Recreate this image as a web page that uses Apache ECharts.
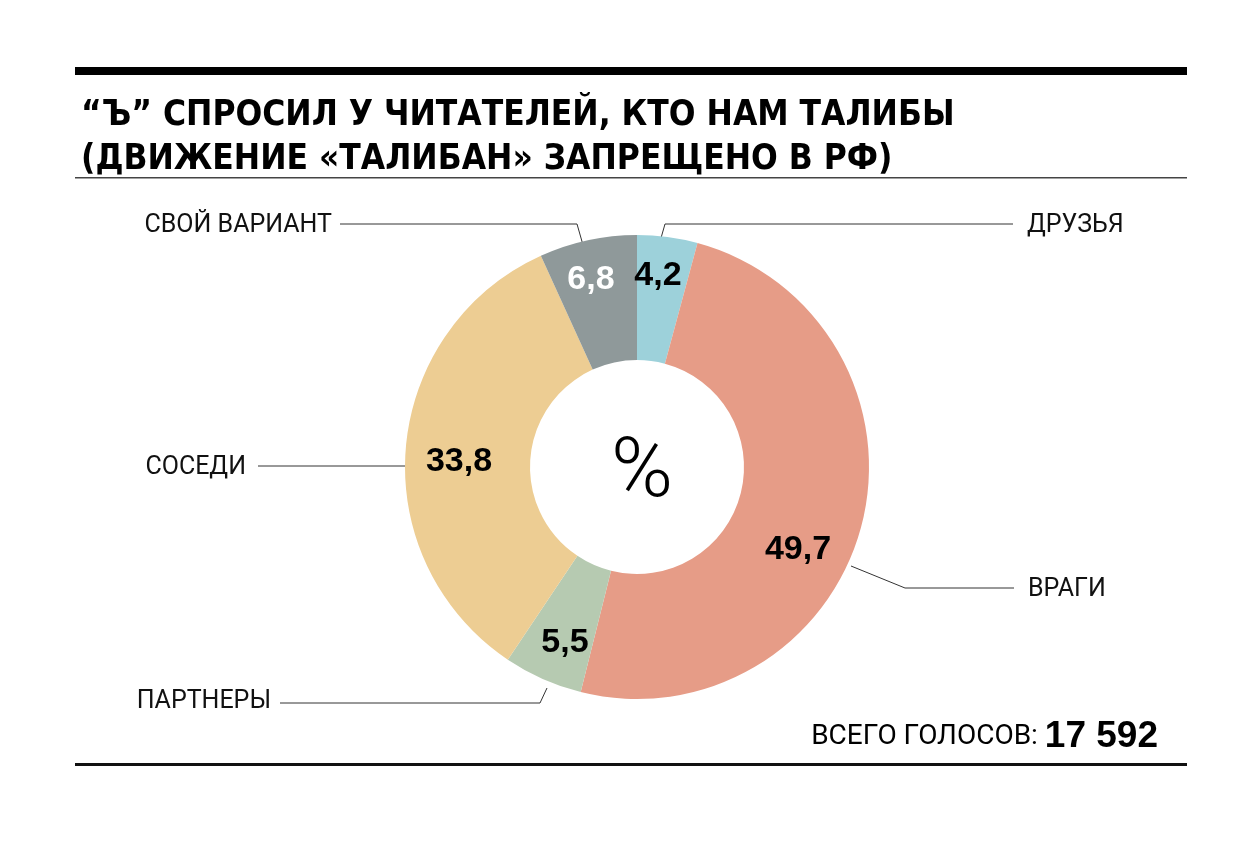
<!DOCTYPE html>
<html>
<head>
<meta charset="utf-8">
<script src="https://cdn.jsdelivr.net/npm/echarts@6/dist/echarts.min.js"></script>
<style>
  html, body { margin: 0; padding: 0; background: #fff; }
  #chart { width: 1260px; height: 841px; }
</style>
</head>
<body>
<div id="chart"></div>
<script>
// данные опроса
const categories = ['ДРУЗЬЯ', 'ВРАГИ', 'ПАРТНЕРЫ', 'СОСЕДИ', 'СВОЙ ВАРИАНТ'];
const shares = [4.2, 49.7, 5.5, 33.8, 6.8];
const totalVotes = '17 592';

const colors = ['#9dd1da', '#e69c87', '#b6cab1', '#edcd93', '#8f999a'];
const valueColors = ['#000', '#000', '#000', '#000', '#fff'];

// позиции подписей значений внутри кольца
const valuePos = [[658, 276], [798, 550], [565, 643], [459, 462], [591, 280]];
// подписи категорий и выноски
const namePos = [
  { x: 1027, y: 226, align: 'left', line: [[661, 238], [665, 224], [1013, 224]] },
  { x: 1028, y: 590, align: 'left', line: [[851, 566], [905, 588], [1014, 588]] },
  { x: 271, y: 702, align: 'right', line: [[547, 688], [540, 703], [280, 703]] },
  { x: 246, y: 468, align: 'right', line: [[405, 466], [330, 466], [258, 466]] },
  { x: 332, y: 226, align: 'right', line: [[583, 245], [577, 224], [340, 224]] }
];

const chart = echarts.init(document.getElementById('chart'));
const pieData = categories.map((name, i) => ({
  name: name,
  value: shares[i],
  itemStyle: { color: colors[i] },
  label: { color: valueColors[i] }
}));

const option = {
  animation: false,
  title: [
    {
      text: '“Ъ” СПРОСИЛ У ЧИТАТЕЛЕЙ, КТО НАМ ТАЛИБЫ\n(ДВИЖЕНИЕ «ТАЛИБАН» ЗАПРЕЩЕНО В РФ)',
      left: 76,
      top: 89,
      textStyle: {
        fontFamily: "'Liberation Sans Narrow', 'DejaVu Sans Condensed', 'Liberation Sans', sans-serif",
        fontWeight: 'bold',
        fontSize: 35,
        lineHeight: 44,
        color: '#000'
      }
    },
    {
      text: '%',
      left: 637,
      top: 470,
      textAlign: 'center',
      textVerticalAlign: 'middle',
      textStyle: {
        fontFamily: 'Roboto, sans-serif',
        fontWeight: 300,
        fontSize: 84,
        color: '#000'
      }
    },
    {
      text: '{a|ВСЕГО ГОЛОСОВ: }{b|' + totalVotes + '}',
      right: 97,
      top: 713,
      textStyle: {
        rich: {
          a: { fontFamily: 'Roboto, sans-serif', fontSize: 28, color: '#000', fontWeight: 'normal' },
          b: { fontFamily: "'Liberation Sans', Roboto, sans-serif", fontSize: 37, color: '#000', fontWeight: 'bold' }
        }
      }
    }
  ],
  graphic: [
    { type: 'rect', shape: { x: 75, y: 67, width: 1112, height: 8 }, style: { fill: '#000' } },
    { type: 'rect', shape: { x: 75, y: 177, width: 1112, height: 1.5 }, style: { fill: '#444' } },
    { type: 'rect', shape: { x: 75, y: 763, width: 1112, height: 3 }, style: { fill: '#111' } }
  ],
  series: [
    {
      type: 'pie',
      center: [637, 467],
      radius: [107, 232],
      startAngle: 90,
      clockwise: true,
      silent: true,
      data: pieData,
      label: {
        show: true,
        position: 'inside',
        formatter: (p) => String(p.value).replace('.', ','),
        fontFamily: "'Liberation Sans', Roboto, sans-serif",
        fontWeight: 'bold',
        fontSize: 34
      },
      labelLine: { show: false },
      labelLayout: (params) => ({
        x: valuePos[params.dataIndex][0],
        y: valuePos[params.dataIndex][1],
        align: 'center',
        verticalAlign: 'middle'
      })
    },
    {
      type: 'pie',
      center: [637, 467],
      radius: [107, 232],
      startAngle: 90,
      clockwise: true,
      silent: true,
      z: 1,
      data: categories.map((name, i) => ({ name: name, value: shares[i] })),
      itemStyle: { color: 'rgba(0,0,0,0)' },
      label: {
        show: true,
        position: 'outside',
        formatter: '{b}',
        fontFamily: 'Roboto, sans-serif',
        fontSize: 25,
        color: '#111'
      },
      labelLine: { show: true, lineStyle: { color: '#333', width: 1 } },
      labelLayout: (params) => {
        const p = namePos[params.dataIndex];
        return {
          x: p.x,
          y: p.y,
          align: p.align,
          verticalAlign: 'middle',
          labelLinePoints: p.line
        };
      }
    }
  ]
};
option && chart.setOption(option);
</script>
</body>
</html>
